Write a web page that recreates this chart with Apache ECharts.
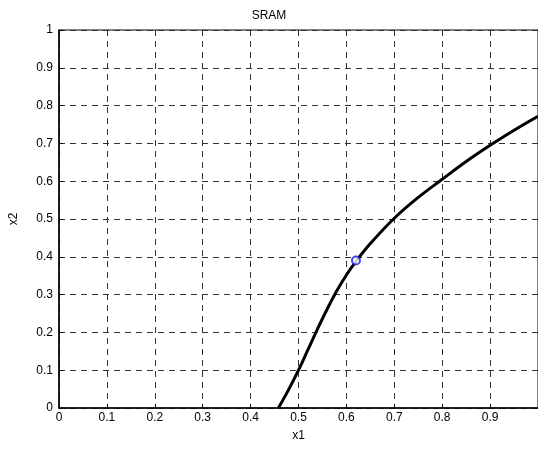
<!DOCTYPE html>
<html>
<head>
<meta charset="utf-8">
<title>SRAM</title>
<script src="https://cdn.jsdelivr.net/npm/echarts@6/dist/echarts.min.js"></script>
<style>
  html, body { margin: 0; padding: 0; background: #fff; }
  #chart { width: 538px; height: 452px; }
</style>
</head>
<body>
<div id="chart"></div>
<script>
// curve
const curveX = [0.458, 0.48, 0.5, 0.52, 0.54, 0.56, 0.58, 0.6, 0.62, 0.65, 0.7, 0.75, 0.8, 0.85, 0.9, 0.95, 1.0];
const curveY = [0, 0.05, 0.1, 0.155, 0.21, 0.262, 0.31, 0.352, 0.388, 0.435, 0.502, 0.557, 0.605, 0.652, 0.695, 0.735, 0.772];
// marked point
const pointX = [0.62];
const pointY = [0.39];

const fontFamily = 'Liberation Sans, Arial, sans-serif';
const gridDash = { color: '#333', width: 1, type: [6, 5] };

const chart = echarts.init(document.getElementById('chart'), null, { renderer: 'canvas' });

chart.setOption({
  animation: false,
  title: {
    text: 'SRAM',
    left: 'center',
    top: 5,
    textStyle: { fontSize: 12, fontWeight: 'normal', color: '#000', fontFamily: fontFamily }
  },
  grid: {
    left: 59,
    top: 30,
    width: 480,
    height: 378,
    show: true,
    borderColor: '#000',
    borderWidth: 1
  },
  xAxis: {
    type: 'value',
    min: 0,
    max: 1,
    interval: 0.1,
    name: 'x1',
    nameLocation: 'middle',
    nameGap: 22,
    nameTextStyle: { fontSize: 12, color: '#000', fontFamily: fontFamily },
    axisLine: { lineStyle: { color: '#000', width: 1.5 } },
    axisTick: { inside: true, length: 4, lineStyle: { color: '#000' } },
    axisLabel: {
      color: '#000',
      fontSize: 12,
      fontFamily: fontFamily,
      margin: 4,
      showMaxLabel: false,
      formatter: v => (Math.round(v * 10) / 10).toString()
    },
    splitLine: { show: true, lineStyle: gridDash }
  },
  yAxis: {
    type: 'value',
    min: 0,
    max: 1,
    interval: 0.1,
    name: 'x2',
    nameLocation: 'middle',
    nameGap: 39,
    nameRotate: 90,
    nameTextStyle: { fontSize: 12, color: '#000', fontFamily: fontFamily },
    axisLine: { lineStyle: { color: '#000', width: 1.5 } },
    axisTick: { inside: true, length: 4, lineStyle: { color: '#000' } },
    axisLabel: {
      color: '#000',
      fontSize: 12,
      fontFamily: fontFamily,
      margin: 6,
      formatter: v => (Math.round(v * 10) / 10).toString()
    },
    splitLine: { show: true, lineStyle: gridDash }
  },
  series: [
    {
      type: 'line',
      data: curveX.map((x, i) => [x, curveY[i]]),
      showSymbol: false,
      smooth: 0.4,
      lineStyle: { color: '#000', width: 3 },
      clip: true,
      z: 2
    },
    {
      type: 'scatter',
      data: pointX.map((x, i) => [x, pointY[i]]),
      symbol: 'emptyCircle',
      symbolSize: 8,
      itemStyle: { color: '#1a1ae6', borderColor: '#1a1ae6', borderWidth: 1 },
      z: 5
    }
  ]
});
</script>
</body>
</html>
